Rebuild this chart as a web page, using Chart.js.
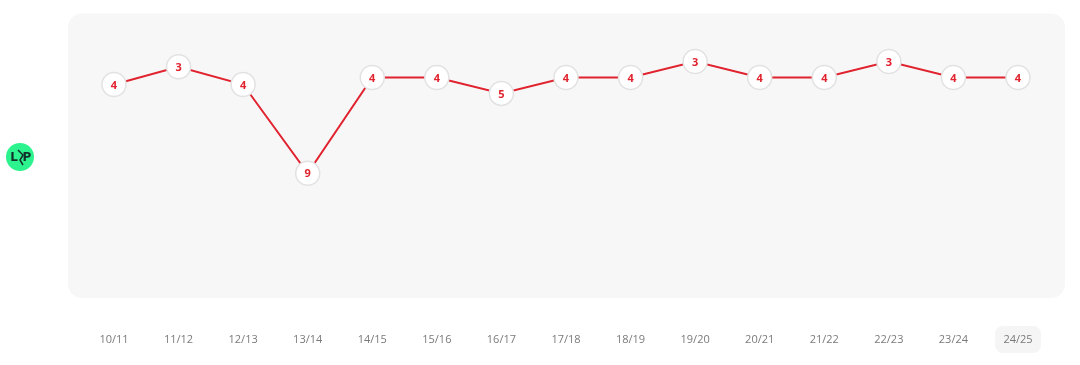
<!DOCTYPE html>
<html>
<head>
<meta charset="utf-8">
<script src="https://cdn.jsdelivr.net/npm/chart.js@4.4.0/dist/chart.umd.min.js"></script>
<style>
    html, body { margin: 0; padding: 0; background: #ffffff; }
    #wrap { position: relative; width: 1080px; height: 365px; }
</style>
</head>
<body>
<div id="wrap"><canvas id="positionChart" width="1080" height="365"></canvas></div>
<script>
// Seasons and final league position
const seasons = ['10/11', '11/12', '12/13', '13/14', '14/15', '15/16', '16/17', '17/18',
    '18/19', '19/20', '20/21', '21/22', '22/23', '23/24', '24/25'];
const positions = [4, 3, 4, 9, 4, 4, 5, 4, 4, 3, 4, 4, 3, 4, 4];
// Number of teams in the league that season
const teamsInLeague = [18, 18, 18, 18, 20, 20, 20, 20, 20, 20, 20, 20, 20, 20, 20];

const RED = '#e0232e';
const currentSeason = seasons.length - 1;

// Rounded grey panel behind the plot + logo on the left
const panelPlugin = {
    id: 'panel',
    beforeDraw(chart) {
        const { ctx, chartArea: a } = chart;
        ctx.save();
        ctx.fillStyle = '#f7f7f7';
        ctx.beginPath();
        ctx.roundRect(a.left, a.top, a.right - a.left, a.bottom - a.top, 14);
        ctx.fill();

        // club badge
        const cy = 157;
        ctx.fillStyle = '#2df38e';
        ctx.beginPath();
        ctx.arc(20, cy, 14, 0, Math.PI * 2);
        ctx.fill();
        ctx.fillStyle = '#12302a';
        ctx.font = 'bold 12px "DejaVu Sans", sans-serif';
        ctx.textAlign = 'center';
        ctx.textBaseline = 'middle';
        ctx.fillText('L', 14, cy + 1);
        ctx.fillText('P', 27, cy + 1);
        ctx.strokeStyle = '#12302a';
        ctx.lineWidth = 1.5;
        ctx.beginPath();
        ctx.moveTo(18, cy - 7);
        ctx.lineTo(23, cy - 2);
        ctx.lineTo(20, cy + 3);
        ctx.lineTo(23, cy + 8);
        ctx.stroke();

        // highlight behind current season tick
        const x = chart.scales.x.getPixelForValue(currentSeason);
        ctx.fillStyle = '#f5f5f5';
        ctx.beginPath();
        ctx.roundRect(x - 23, 326, 46, 27, 8);
        ctx.fill();
        ctx.restore();
    }
};

// Position number inside each point
const labelPlugin = {
    id: 'pointLabels',
    afterDatasetsDraw(chart) {
        const { ctx } = chart;
        const meta = chart.getDatasetMeta(0);
        ctx.save();
        ctx.fillStyle = RED;
        ctx.font = 'bold 11px "Open Sans", sans-serif';
        ctx.textAlign = 'center';
        ctx.textBaseline = 'middle';
        meta.data.forEach((pt, i) => {
            ctx.fillText(String(positions[i]), pt.x, pt.y + 1);
        });
        ctx.restore();
    }
};

new Chart(document.getElementById('positionChart'), {
    type: 'line',
    data: {
        datasets: [{
            data: positions.map((p, i) => ({ x: i, y: p / teamsInLeague[i] })),
            borderColor: RED,
            borderWidth: 2,
            tension: 0,
            pointRadius: 12,
            pointHoverRadius: 12,
            pointBackgroundColor: '#ffffff',
            pointBorderColor: '#e2e2e2',
            pointBorderWidth: 1.5
        }]
    },
    options: {
        responsive: false,
        animation: false,
        layout: { padding: { left: 68, right: 15, top: 13, bottom: 0 } },
        plugins: {
            legend: { display: false },
            tooltip: { enabled: false }
        },
        scales: {
            x: {
                type: 'linear',
                min: -0.712,
                max: 14.728,
                afterBuildTicks(scale) {
                    scale.ticks = seasons.map((_, i) => ({ value: i }));
                },
                afterFit(scale) {
                    scale.height = 67;
                },
                ticks: {
                    autoSkip: false,
                    maxRotation: 0,
                    padding: 27,
                    color: '#7a7a7a',
                    font: { family: "'Open Sans', sans-serif", size: 11 },
                    callback: v => seasons[v]
                },
                grid: { display: false },
                border: { display: false }
            },
            y: {
                display: false,
                reverse: true,
                min: 0,
                max: 0.89
            }
        }
    },
    plugins: [panelPlugin, labelPlugin]
});
</script>
</body>
</html>
